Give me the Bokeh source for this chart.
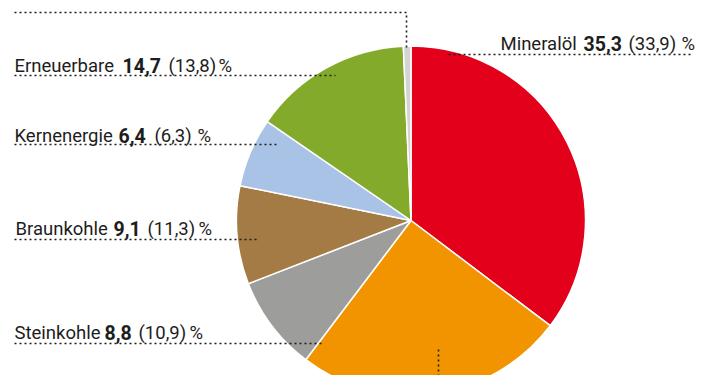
import numpy as np
from bokeh.plotting import figure
from bokeh.models import Range1d, ColumnDataSource
from bokeh.core.properties import value
from bokeh.embed import file_html
from bokeh.resources import INLINE

# Data (clockwise from 12 o'clock)
categories = ["Mineralöl", "Erdgas", "Steinkohle", "Braunkohle", "Kernenergie", "Erneuerbare", "Sonstige"]
values_now = [35.3, 25.0, 8.8, 9.1, 6.4, 14.7, 0.7]
values_prev = ["33,9", "23,7", "10,9", "11,3", "6,3", "13,8", "0,4"]
colors = ["#e2001a", "#f29400", "#9d9d9c", "#a47b45", "#a8c3e6", "#84aa2c", "#d4d4d4"]

W, H = 710, 375
FONT = "Roboto"
TXT = "#1d1d1b"

def Y(ref_y):
    return 375 - ref_y

p = figure(width=W, height=H, output_backend="svg", toolbar_location=None,
           x_range=Range1d(0, W), y_range=Range1d(375 - H, 375),
           min_border=0, outline_line_color=None)
p.axis.visible = False
p.grid.visible = False
p.background_fill_color = "white"
p.border_fill_color = "white"

# Pie
vals = np.array(values_now)
frac = vals / vals.sum()
cum = np.concatenate([[0], np.cumsum(frac)])
start = np.pi / 2 - 2 * np.pi * cum[1:]
end = np.pi / 2 - 2 * np.pi * cum[:-1]
src = ColumnDataSource(dict(cat=categories, start=start, end=end, color=colors))
cx, cy, r = 410.5, Y(220), 174.5
p.wedge(x=cx, y=cy, radius=r, start_angle="start", end_angle="end",
        fill_color="color", line_color="white", line_width=1.5, source=src)

# Labels: (category index, baseline y, x positions of name, value, prev, percent)
labels = [
    (0, 43, 500, 583, 628, 681),
    (5, 65, 14, 122, 168, 218),
    (4, 135, 14, 118, 154, 197),
    (3, 228, 15, 113, 147, 198),
    (2, 332, 14, 104, 138, 189),
]

def fmt(v):
    return f"{v:.1f}".replace(".", ",")

for idx, by, xn, xv, xp, xpc in labels:
    common = dict(text_baseline="alphabetic", text_align="left",
                  text_font=value(FONT), text_font_size="18.5px", text_color=TXT)
    p.text(x=[xn], y=[Y(by)], text=[categories[idx]], **common)
    p.text(x=[xv], y=[Y(by)], text=[fmt(values_now[idx])], text_font_style="bold",
           **{**common, "text_font_size": "19.5px"})
    p.text(x=[xp], y=[Y(by)], text=["(" + values_prev[idx] + ")"], **common)
    p.text(x=[xpc], y=[Y(by)], text=["%"], **common)

# Dotted leader lines
dot = dict(line_color="#1d1d1b", line_width=1.6, line_dash="2 3")
p.line(x=[448, 693], y=[Y(54), Y(54)], **dot)
p.line(x=[14, 335], y=[Y(75), Y(75)], **dot)
p.line(x=[14, 277], y=[Y(144), Y(144)], **dot)
p.line(x=[14, 258], y=[Y(239), Y(239)], **dot)
p.line(x=[14, 323], y=[Y(343), Y(343)], **dot)
# Sonstige leader (top)
p.line(x=[14, 406, 406], y=[Y(12), Y(12), Y(47)], **dot)
# Erdgas leader (bottom)
p.line(x=[438, 438], y=[Y(349), Y(380)], **dot)

open("out.html", "w").write(file_html(p, INLINE))
